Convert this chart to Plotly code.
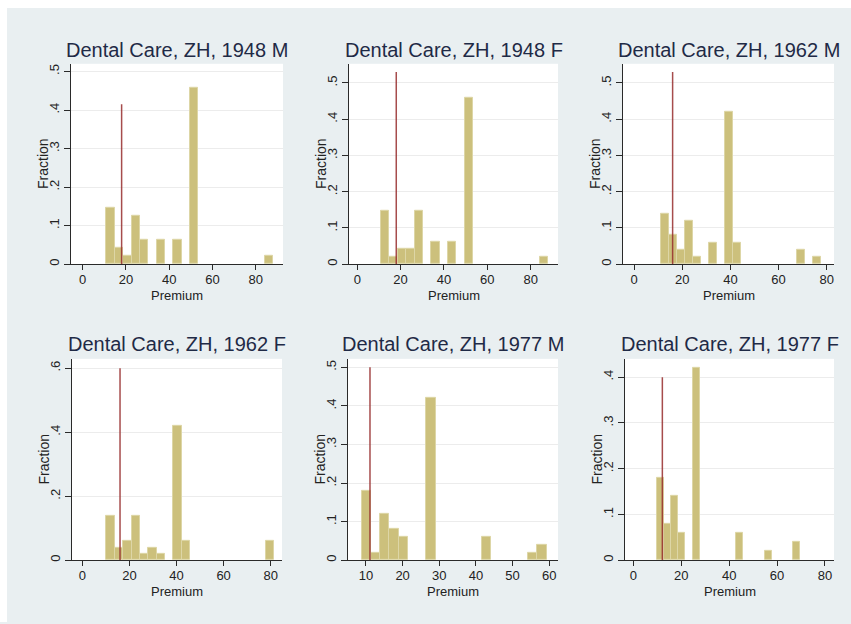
import plotly.graph_objects as go

# ---------------- data ----------------
titles = ["Dental Care, ZH, 1948 M", "Dental Care, ZH, 1948 F", "Dental Care, ZH, 1962 M",
          "Dental Care, ZH, 1962 F", "Dental Care, ZH, 1977 M", "Dental Care, ZH, 1977 F"]

# bin left edges and bar heights (fraction) per panel
p1_left = [11.0, 14.86, 18.72, 22.58, 26.44, 34.16, 41.88, 49.6, 84.34]
p1_frac = [0.146, 0.042, 0.021, 0.125, 0.0625, 0.0625, 0.0625, 0.458, 0.021]
p1_width = 3.86

p2_left = [11.0, 14.86, 18.72, 22.58, 26.44, 34.16, 41.88, 49.6, 84.34]
p2_frac = [0.146, 0.021, 0.042, 0.042, 0.146, 0.0625, 0.0625, 0.458, 0.021]
p2_width = 3.86

p3_left = [11.0, 14.33, 17.66, 20.99, 24.32, 30.98, 37.64, 40.97, 67.61, 74.27]
p3_frac = [0.14, 0.08, 0.04, 0.12, 0.02, 0.06, 0.42, 0.06, 0.04, 0.02]
p3_width = 3.33

p4_left = [10.2, 13.76, 17.32, 20.88, 24.44, 28.0, 31.56, 38.68, 42.24, 77.84]
p4_frac = [0.14, 0.04, 0.06, 0.14, 0.02, 0.04, 0.02, 0.42, 0.06, 0.06]
p4_width = 3.56

p5_left = [8.8, 11.325, 13.85, 16.375, 18.9, 26.475, 41.625, 54.25, 56.775]
p5_frac = [0.18, 0.02, 0.12, 0.08, 0.06, 0.42, 0.06, 0.02, 0.04]
p5_width = 2.525

p6_left = [9.7, 12.705, 15.71, 18.715, 24.725, 42.755, 54.775, 66.795]
p6_frac = [0.18, 0.08, 0.14, 0.06, 0.42, 0.06, 0.02, 0.04]
p6_width = 3.005

# reference (red) line: position and height
ref_x = [18.0, 18.0, 16.0, 16.0, 11.1, 12.1]
ref_h = [0.415, 0.53, 0.53, 0.60, 0.50, 0.40]

# axis ranges and ticks
x_ranges = [[-5.4, 92.6], [-3.8, 92.6], [-4.6, 83.0], [-4.4, 84.8], [5.1, 62.4], [-3.5, 83.8]]
x_ticks = [[0, 20, 40, 60, 80]] * 4 + [[10, 20, 30, 40, 50, 60], [0, 20, 40, 60, 80]]
y_ranges = [[0, 0.52], [0, 0.553], [0, 0.553], [0, 0.629], [0, 0.522], [0, 0.44]]
y_ticks = [[0, .1, .2, .3, .4, .5]] * 3 + [[0, .2, .4, .6], [0, .1, .2, .3, .4, .5], [0, .1, .2, .3, .4]]
y_ticktext = [["0", ".1", ".2", ".3", ".4", ".5"]] * 3 + [["0", ".2", ".4", ".6"],
              ["0", ".1", ".2", ".3", ".4", ".5"], ["0", ".1", ".2", ".3", ".4"]]

lefts = [p1_left, p2_left, p3_left, p4_left, p5_left, p6_left]
fracs = [p1_frac, p2_frac, p3_frac, p4_frac, p5_frac, p6_frac]
widths = [p1_width, p2_width, p3_width, p4_width, p5_width, p6_width]

# ---------------- layout geometry (pixels) ----------------
W, H = 851, 624
# (left, right, top, bottom) of each plot region in pixels
boxes = [(71, 283, 64, 265), (349, 558, 64, 265), (623, 834, 64, 265),
         (72, 282, 360, 562), (348, 558, 360, 562), (625, 834, 360, 562)]

BG = "#e9eff1"
BAR = "#ccc07c"
BAR_EDGE = "#ddd6a6"
RED = "rgba(150,45,45,0.85)"
FONT = "Liberation Sans, Arial, sans-serif"
TITLE_COL = "#1f2a46"
AX_COL = "#2a2a2a"

fig = go.Figure()
annotations = []

for i in range(6):
    l, r, t, b = boxes[i]
    xa = "x" if i == 0 else f"x{i+1}"
    ya = "y" if i == 0 else f"y{i+1}"
    fig.add_trace(go.Bar(x=lefts[i], y=fracs[i], width=widths[i], offset=0,
                         marker=dict(color=BAR, line=dict(color=BAR_EDGE, width=1)),
                         xaxis=xa, yaxis=ya, showlegend=False, hoverinfo="skip"))
    fig.add_trace(go.Scatter(x=[ref_x[i], ref_x[i]], y=[0, ref_h[i]], mode="lines",
                             line=dict(color=RED, width=1.5),
                             xaxis=xa, yaxis=ya, showlegend=False, hoverinfo="skip"))

    xkey = "xaxis" if i == 0 else f"xaxis{i+1}"
    ykey = "yaxis" if i == 0 else f"yaxis{i+1}"
    fig.update_layout(**{
        xkey: dict(domain=[l / W, r / W], anchor=ya, range=x_ranges[i],
                   tickvals=x_ticks[i], ticktext=[str(v) for v in x_ticks[i]],
                   showgrid=False, zeroline=False, showline=True, linecolor=AX_COL, linewidth=1,
                   ticks="outside", ticklen=5, tickcolor=AX_COL, tickwidth=1,
                   ticklabelstandoff=-2,
                   tickfont=dict(family=FONT, size=13, color="#222222"), fixedrange=True),
        ykey: dict(domain=[1 - b / H, 1 - t / H], anchor=xa, range=y_ranges[i],
                   tickvals=y_ticks[i], ticktext=y_ticktext[i], tickangle=-90,
                   showgrid=True, gridcolor="#ececec", gridwidth=1,
                   zeroline=False, showline=True, linecolor=AX_COL, linewidth=1,
                   ticks="outside", ticklen=6, tickcolor=AX_COL, tickwidth=1,
                   tickfont=dict(family=FONT, size=13, color="#222222"), fixedrange=True),
    })

    cx = (l + r) / 2
    title_y = 50 if t < 200 else 345.5
    prem_y = b + 31
    annotations.append(dict(text=titles[i], x=cx / W, y=1 - title_y / H, xref="paper", yref="paper",
                            xanchor="center", yanchor="middle", showarrow=False,
                            font=dict(family=FONT, size=20, color=TITLE_COL)))
    annotations.append(dict(text="Premium", x=cx / W, y=1 - prem_y / H, xref="paper", yref="paper",
                            xanchor="center", yanchor="middle", showarrow=False,
                            font=dict(family=FONT, size=13, color="#222222")))
    annotations.append(dict(text="Fraction", x=(l - 28) / W, y=1 - ((t + b) / 2) / H,
                            xref="paper", yref="paper", xanchor="center", yanchor="middle",
                            textangle=-90, showarrow=False,
                            font=dict(family=FONT, size=14, color="#222222")))

fig.update_layout(
    width=W, height=H, margin=dict(l=0, r=0, t=0, b=0),
    paper_bgcolor=BG, plot_bgcolor="white",
    annotations=annotations, bargap=0,
    shapes=[
        dict(type="rect", xref="paper", yref="paper", x0=0, x1=1, y0=1 - 8 / H, y1=1,
             fillcolor="white", line=dict(width=0), layer="above"),
        dict(type="rect", xref="paper", yref="paper", x0=0, x1=7 / W, y0=0, y1=1,
             fillcolor="white", line=dict(width=0), layer="above"),
    ],
)

fig.write_html("out.html")
